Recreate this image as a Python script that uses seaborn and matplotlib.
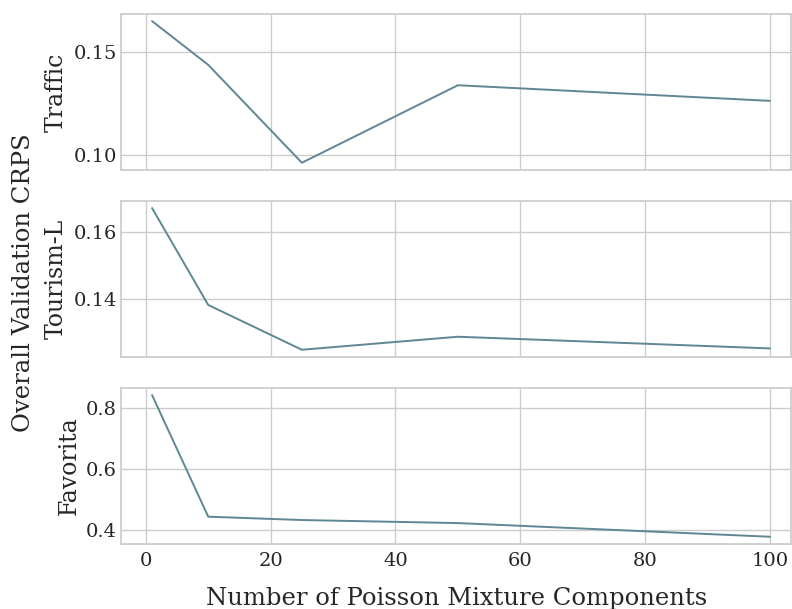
import matplotlib
matplotlib.use("Agg")
import matplotlib.pyplot as plt
import seaborn as sns
import pandas as pd

components = [1, 10, 25, 50, 100]
traffic = [0.165, 0.1437, 0.0961, 0.1338, 0.1262]
tourism = [0.1672, 0.1382, 0.1248, 0.1287, 0.1252]
favorita = [0.843, 0.443, 0.432, 0.422, 0.377]
dataset_names = ["Traffic", "Tourism-L", "Favorita"]

sns.set_theme(style="whitegrid")
plt.rcParams["font.family"] = ["DejaVu Serif"]
plt.rcParams["axes.edgecolor"] = "#cccccc"

line_color = "#5f8793"

fig, axes = plt.subplots(3, 1, figsize=(7.92, 6.09), dpi=100, sharex=True)
fig.subplots_adjust(left=0.153, right=0.999, top=0.977, bottom=0.107, hspace=0.2)

for ax, name, vals in zip(axes, dataset_names, [traffic, tourism, favorita]):
    df = pd.DataFrame({"k": components, "crps": vals})
    sns.lineplot(data=df, x="k", y="crps", ax=ax, color=line_color, linewidth=1.4)
    ax.set_ylabel(name, fontsize=17, labelpad=4)
    ax.set_xlabel("")
    ax.tick_params(labelsize=14, length=0, pad=3)
    ax.tick_params(axis="x", pad=6)

axes[0].set_yticks([0.10, 0.15])
axes[1].set_yticks([0.14, 0.16])
axes[2].set_yticks([0.4, 0.6, 0.8])
axes[0].yaxis.set_major_formatter(matplotlib.ticker.FormatStrFormatter("%.2f"))
axes[1].yaxis.set_major_formatter(matplotlib.ticker.FormatStrFormatter("%.2f"))
axes[2].yaxis.set_major_formatter(matplotlib.ticker.FormatStrFormatter("%.1f"))
axes[2].set_xticks([0, 20, 40, 60, 80, 100])
axes[2].set_xlim(-3.95, 103.4)

axes[2].set_xlabel("Number of Poisson Mixture Components", fontsize=17.5, labelpad=12)
fig.supylabel("Overall Validation CRPS", fontsize=17.5, x=0.015, y=0.535)

fig.savefig("out.png", dpi=100)
